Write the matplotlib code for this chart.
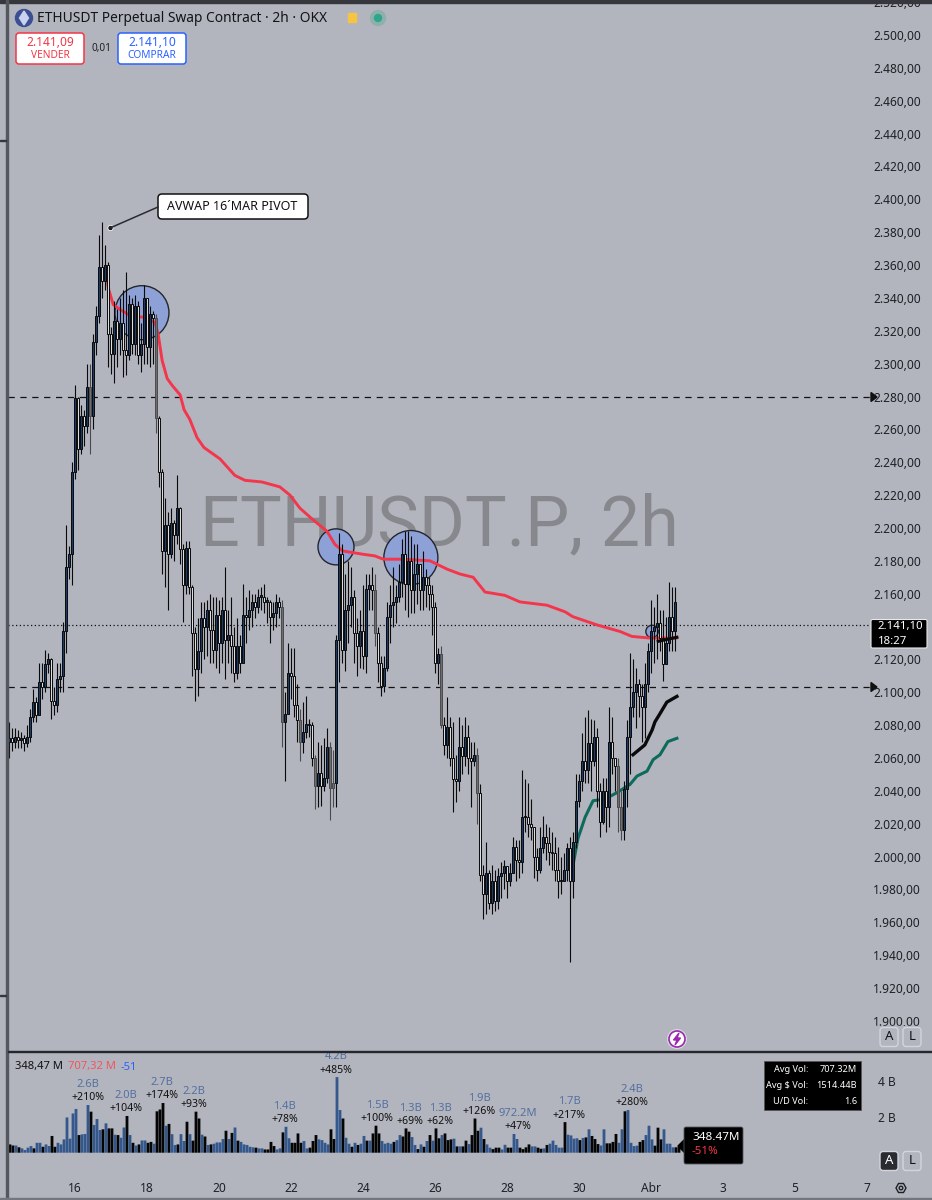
import matplotlib
matplotlib.use("Agg")
import matplotlib.pyplot as plt
from matplotlib.patches import Circle, FancyBboxPatch, Polygon, Rectangle
from matplotlib.ticker import FuncFormatter

# candles (2h bars, open = previous close)
closes = [
    2072, 2070, 2073, 2071, 2072, 2069, 2073, 2085, 2094, 2086,
    2106, 2103, 2117, 2120, 2095, 2092, 2108, 2110, 2137, 2176,
    2184, 2234, 2279, 2248, 2268, 2262, 2286, 2268, 2313, 2329,
    2359, 2350, 2360, 2318, 2306, 2326, 2315, 2325, 2308, 2305,
    2336, 2312, 2335, 2305, 2312, 2340, 2310, 2330, 2328, 2267,
    2234, 2186, 2202, 2184, 2203, 2196, 2212, 2187, 2165, 2188,
    2164, 2136, 2114, 2125, 2145, 2140, 2150, 2138, 2126, 2147,
    2130, 2150, 2132, 2135, 2128, 2112, 2128, 2118, 2147, 2146,
    2150, 2155, 2152, 2158, 2158, 2155, 2155, 2146, 2148, 2155,
    2152, 2082, 2087, 2112, 2110, 2092, 2083, 2070, 2076, 2081,
    2080, 2060, 2043, 2051, 2043, 2048, 2067, 2042, 2045, 2132,
    2184, 2126, 2150, 2153, 2158, 2136, 2128, 2137, 2122, 2163,
    2165, 2162, 2136, 2118, 2104, 2115, 2146, 2153, 2155, 2158,
    2167, 2184, 2166, 2180, 2162, 2172, 2178, 2162, 2170, 2165,
    2160, 2152, 2118, 2123, 2080, 2068, 2079, 2060, 2047, 2046,
    2067, 2061, 2073, 2060, 2058, 2062, 2039, 1989, 1977, 1990,
    1972, 1985, 1973, 1988, 1990, 1994, 1985, 1990, 2006, 1998,
    1997, 2024, 2024, 2020, 2018, 2000, 1992, 2005, 2012, 2008,
    2003, 2002, 1992, 1985, 1985, 1992, 2005, 1985, 2009, 2034,
    2046, 2058, 2053, 2069, 2058, 2073, 2040, 2021, 2040, 2030,
    2070, 2060, 2055, 2030, 2016, 2041, 2073, 2091, 2100, 2105,
    2098, 2091, 2105, 2125, 2137, 2140, 2142, 2133, 2117, 2130,
    2146, 2137, 2155,
]
highs = [
    2082, 2078, 2078, 2077, 2076, 2074, 2080, 2090, 2102, 2097,
    2118, 2118, 2126, 2124, 2121, 2103, 2118, 2118, 2143, 2202,
    2189, 2240, 2287, 2280, 2275, 2272, 2300, 2300, 2318, 2335,
    2378, 2386, 2372, 2362, 2322, 2338, 2333, 2340, 2345, 2356,
    2342, 2340, 2342, 2338, 2325, 2348, 2340, 2335, 2332, 2330,
    2268, 2236, 2218, 2210, 2212, 2205, 2232, 2213, 2190, 2192,
    2192, 2165, 2140, 2145, 2155, 2155, 2156, 2160, 2158, 2158,
    2156, 2158, 2176, 2150, 2158, 2140, 2145, 2135, 2166, 2158,
    2162, 2160, 2160, 2163, 2164, 2166, 2158, 2156, 2155, 2160,
    2158, 2156, 2100, 2130, 2127, 2127, 2105, 2090, 2094, 2098,
    2084, 2082, 2062, 2070, 2068, 2072, 2078, 2070, 2065, 2135,
    2197, 2190, 2172, 2180, 2176, 2162, 2145, 2150, 2165, 2172,
    2172, 2176, 2172, 2140, 2122, 2122, 2155, 2165, 2176, 2165,
    2178, 2193, 2198, 2198, 2195, 2190, 2190, 2178, 2186, 2175,
    2170, 2165, 2155, 2127, 2128, 2085, 2097, 2085, 2082, 2062,
    2085, 2080, 2085, 2080, 2070, 2070, 2066, 2044, 1995, 2009,
    1992, 1995, 1992, 1993, 1997, 1998, 1993, 1996, 2012, 2010,
    2010, 2053, 2047, 2045, 2035, 2018, 2005, 2018, 2025, 2020,
    2018, 2015, 2012, 2006, 2000, 2002, 2008, 2012, 2015, 2050,
    2050, 2075, 2085, 2089, 2084, 2083, 2078, 2045, 2048, 2048,
    2091, 2085, 2060, 2060, 2040, 2046, 2083, 2124, 2120, 2115,
    2108, 2105, 2118, 2130, 2156, 2152, 2160, 2150, 2150, 2146,
    2167, 2164, 2164,
]
lows = [
    2060, 2064, 2066, 2066, 2066, 2064, 2067, 2070, 2082, 2082,
    2090, 2096, 2100, 2112, 2084, 2086, 2088, 2100, 2100, 2124,
    2169, 2165, 2230, 2235, 2245, 2250, 2258, 2245, 2260, 2305,
    2325, 2340, 2345, 2298, 2294, 2288, 2298, 2305, 2292, 2293,
    2302, 2306, 2305, 2300, 2295, 2300, 2300, 2298, 2300, 2258,
    2225, 2172, 2164, 2150, 2182, 2180, 2190, 2178, 2143, 2160,
    2160, 2110, 2095, 2098, 2112, 2120, 2122, 2118, 2118, 2115,
    2112, 2118, 2108, 2118, 2112, 2106, 2108, 2112, 2120, 2130,
    2138, 2140, 2145, 2148, 2150, 2148, 2142, 2130, 2138, 2140,
    2145, 2067, 2046, 2090, 2096, 2085, 2070, 2058, 2063, 2072,
    2073, 2055, 2029, 2030, 2031, 2040, 2045, 2022, 2030, 2030,
    2106, 2118, 2113, 2130, 2140, 2118, 2110, 2115, 2114, 2112,
    2150, 2150, 2128, 2106, 2098, 2100, 2113, 2130, 2140, 2142,
    2155, 2158, 2150, 2146, 2148, 2148, 2154, 2150, 2150, 2152,
    2150, 2135, 2112, 2105, 2078, 2062, 2060, 2055, 2027, 2033,
    2040, 2050, 2055, 2050, 2030, 2055, 2020, 1985, 1962, 1965,
    1968, 1965, 1967, 1968, 1975, 1980, 1975, 1982, 1990, 1985,
    1987, 1990, 2015, 2012, 2010, 1987, 1985, 1990, 2002, 1998,
    1995, 1992, 1985, 1975, 1977, 1985, 1985, 1936, 1975, 2005,
    2030, 2040, 2045, 2045, 2040, 2055, 2030, 2012, 2020, 2015,
    2018, 2050, 2040, 2015, 2010, 2010, 2030, 2050, 2085, 2078,
    2085, 2070, 2072, 2100, 2112, 2118, 2120, 2125, 2107, 2120,
    2125, 2125, 2125,
]
gray_bars = [27, 49, 91, 97, 102, 107, 108, 122, 144, 156, 203, 204]

# anchored lines, day of chart / price
red_days = [16.86, 16.94, 17.06, 17.25, 17.47, 17.94, 18.22, 18.31, 18.42, 18.56,
            18.69, 18.92, 19.03, 19.19, 19.39, 19.58, 20.03, 20.44, 20.72, 21.19,
            21.69, 21.97, 22.25, 22.61, 23.0, 23.22, 23.44, 24.0, 24.33, 24.56,
            25.11, 25.86, 26.33, 26.69, 27.06, 27.39, 27.94, 28.36, 29.11, 29.61,
            29.83, 30.5, 31.14, 31.47, 31.97, 32.72]
red_prices = [2354, 2345, 2336, 2333, 2330, 2328, 2325, 2318, 2302, 2291,
              2287, 2281, 2272, 2266, 2255, 2249, 2242, 2232, 2229, 2228,
              2225, 2220, 2212, 2205, 2198, 2190, 2186, 2184, 2183, 2181,
              2181, 2180, 2175, 2172, 2170, 2161, 2159, 2155, 2153, 2149,
              2146, 2141, 2137, 2134, 2133, 2133]
black_days = [31.5, 31.83, 32.03, 32.11, 32.25, 32.44, 32.72]
black_prices = [2062, 2068, 2077, 2082, 2087, 2094, 2097.5]
black2_days = [32.2, 32.72]
black2_prices = [2131, 2133.5]
green_days = [29.81, 29.97, 30.17, 30.39, 30.72, 31.06, 31.42, 31.61, 31.89, 32.06,
              32.25, 32.47, 32.72]
green_prices = [1992, 2011, 2024, 2034, 2035, 2039, 2044, 2049, 2052, 2059,
                2062, 2070, 2072]

circle_days = [17.86, 23.25, 25.33, 32.03]
circle_prices = [2331, 2188.5, 2182, 2137]
circle_sizes = [1512, 672, 1512, 80]

level_prices = [2280, 2103]
last_price = 2141.10

# volume in billions, b = blue bar, k = black bar
vol_values = [
    .46, .40, .40, .30, .24, .15, .28, .37, .24, .55,
    .55, .33, .46, .37, .93, .33, .55, .46, .74, 1.96,
    .78, 2.18, 2.43, .98, 1.02, 1.04, 2.65, 2.28, 1.54, 1.87,
    1.26, 1.3, 1.63, 1.35, 1.35, 1.0, .98, .83, 1.4, 2.04,
    .98, .55, .4, .46, .68, .68, .55, .6, .5, 2.3,
    2.4, 2.76, 1.5, 1.6, 1.03, .43, .46, 1.03, .65, 1.72,
    1.03, .67, 2.28, 1.9, 1.0, .9, .43, .46, .5, .57,
    .57, .76, 1.22, .76, 1.1, 1.4, .67, .6, .46, .43,
    .33, .3, .28, .24, .24, .18, .18, .6, .37, .18,
    .24, 1.13, 1.44, .8, .55, .55, 1.07, .55, .65, .24,
    .28, .65, .98, .74, .7, .55, .46, 1.3, .76, 4.2,
    2.37,
    1.9, .83, .5, .33, .55, .43, .5, .93, .67, .67,
    1.07, 1.5, 1.07, .65, .5, .55, .5, .6, .7, .98,
    .9, 1.35, 1.17, .87, .43, .2, .46, .33, .65, .98,
    .67, 1.35, .8, .98, 1.07, .7, .74, .78, .35, .35,
    .35, .67, .48, .98, 1.9, 1.22, 1.39, .76, .46, .28,
    .2, .28, .28, .18, .44, .28, .28, 1.04, .76, .28,
    .2, .3, .46, .35, .35, .28, .22, .24, .43, .5,
    .67, .43, .28, .28, 1.7, 1.0, .96, .78, .8, .7,
    .82, .85, 1.3, .93, .76, .48, .4, 1.3, .52, .52,
    .6, 1.04, .55, 1.3, 2.3, 2.37, .55, .37, .39, .6,
    .7, .98, 1.5, .74, .39, 1.39, .74, 1.3, .5, .5,
    .3, .3, .35,
]
vol_kinds = ("kkbkbbbbkb" "bkbbkkbbbb" "bbbkbbbkbb" "bkbkkbkbbk" "bkbkbbkkbk"
             "kkbkbbkbbk" "bkkkbkbkbb" "bbkbkbkbbb" "bbkbbkkkkb" "bkbbkkkkbb"
             "kkkbbbbkkb" "b"
             "kbbkbkbbkb" "kkkbbbbkbb" "kkkbbkbkbk" "bkkbkkkbkb" "kkbkkkbkbb"
             "kkkbbkkbbk" "kkkbbkkbkb" "bbbbkbbbbk" "bkbkkkbbkk" "kkbbkbbbbk"
             "kbbbkkkbbb" "bkk")

peak_days = [16.36, 17.42, 18.42, 19.31, 21.83, 23.25, 24.39, 25.31, 26.14, 27.22,
             28.31, 29.72, 31.47]
peak_values = [2.65, 2.04, 2.76, 2.28, 1.44, 4.2, 1.5, 1.35, 1.35, 1.9,
               1.04, 1.7, 2.37]
peak_labels = ["2.6B", "2.0B", "2.7B", "2.2B", "1.4B", "4.2B", "1.5B", "1.3B", "1.3B", "1.9B",
               "972.2M", "1.7B", "2.4B"]
peak_pcts = ["+210%", "+104%", "+174%", "+93%", "+78%", "+485%", "+100%", "+69%", "+62%", "+126%",
             "+47%", "+217%", "+280%"]

price_ticks = [p for p in range(1900, 2521, 20) if p != 2140]  # 2.140 sits under the price tag
date_ticks = [16, 18, 20, 22, 24, 26, 28, 30, 32, 34, 36, 38]
date_labels = ["16", "18", "20", "22", "24", "26", "28", "30", "Abr", "3", "5", "7"]

W, H = 932, 1200
BG = "#b2b5be"
UP = "#1d3b68"
DOWN = "#dcdde0"
GRAY = "#6e6e70"
VOL_BLUE = "#34588c"
LABEL_BLUE = "#54709f"
FONT = "Noto Sans"
plt.rcParams["font.family"] = [FONT, "DejaVu Sans"]

fig = plt.figure(figsize=(W / 100, H / 100), dpi=100, facecolor=BG)


def px_axes(left, top, right, bottom):
    return fig.add_axes([left / W, 1 - bottom / H, (right - left) / W, (bottom - top) / H])


# main pane
ax = px_axes(8, 0, 872, 1051)
ax.patch.set_alpha(0)
ax.set_xlim(14.139, 38.139)
ax.set_ylim(1881.7, 2521.3)
for s in ax.spines.values():
    s.set_visible(False)
ax.xaxis.set_visible(False)
ax.yaxis.tick_right()
ax.set_yticks(price_ticks)
ax.yaxis.set_major_formatter(FuncFormatter(lambda v, _: f"{v:,.2f}".replace(",", "#").replace(".", ",").replace("#", ".")))
ax.tick_params(axis="y", length=0, pad=1, labelsize=8.6, labelcolor="#1f2024")

# watermark sits under the candles
fig.text(439 / W, 1 - 526 / H, "ETHUSDT.P, 2h", ha="center", va="center",
         fontsize=50.5, color="#87888d", family="Roboto", zorder=-1)

# levels
for lv in level_prices:
    ax.axhline(lv, color="#111111", lw=0.9, ls=(0, (5, 4.5)), zorder=1.5)
ax.axhline(last_price, color="#111111", lw=0.9, ls=(0, (1, 2)), zorder=1.5)

ax.scatter(circle_days, circle_prices, s=circle_sizes, facecolor="#8ea1d6", edgecolor="#23252c",
           linewidth=1, zorder=1.8)

ax.plot(red_days, red_prices, color="#f4364c", lw=2.1, zorder=2.2, solid_capstyle="round")
ax.plot(green_days, green_prices, color="#0e6b5b", lw=2.2, zorder=2.2)
ax.plot(black_days, black_prices, color="#0a0a0a", lw=2.4, zorder=2.2)

# candles
bar_days = [16 + (9 - 75) / 36 + i / 12 for i in range(len(closes))]
opens = [closes[0] - 2] + closes[:-1]
for i, day in enumerate(bar_days):
    o, c = opens[i], closes[i]
    if i in gray_bars:
        face, edge = GRAY, "#4a4a4c"
    elif c >= o:
        face, edge = UP, "#0a0a0a"
    else:
        face, edge = DOWN, "#0a0a0a"
    ax.vlines(day, lows[i], highs[i], color=edge, lw=0.8, zorder=3)
    ax.bar(day, max(abs(c - o), 1), bottom=min(o, c), width=0.055, facecolor=face, edgecolor=edge,
           linewidth=0.7, zorder=3.1)
ax.plot(black2_days, black2_prices, color="#0a0a0a", lw=2.2, zorder=3.5)

# volume pane
vax = px_axes(8, 1052, 872, 1176)
vax.patch.set_alpha(0)
vax.set_xlim(14.139, 38.139)
vax.set_ylim((1152.7 - 1176) / 18, (1152.7 - 1052) / 18)
for s in vax.spines.values():
    s.set_visible(False)
vol_days = [16 + (10 - 75) / 36 + i / 12 for i in range(len(vol_values))]
vol_bars = vax.bar(vol_days, vol_values, width=0.078,
                   color=[VOL_BLUE if k == "b" else "#050505" for k in vol_kinds], zorder=3)
for b in vol_bars:
    b.set_snap(False)
for day, val, lab, pct in zip(peak_days, peak_values, peak_labels, peak_pcts):
    vax.annotate(pct, (day, val), xytext=(0, 5.1), textcoords="offset points", ha="center", va="center",
                 fontsize=7.6, color="#101010", annotation_clip=False)
    vax.annotate(lab, (day, val), xytext=(0, 14.6), textcoords="offset points", ha="center", va="center",
                 fontsize=8, color=LABEL_BLUE, annotation_clip=False)
vax.set_xticks(date_ticks)
vax.set_xticklabels(date_labels)
vax.get_xticklabels()[8].set_fontweight("bold")
vax.yaxis.tick_right()
vax.set_yticks([2, 4])
vax.set_yticklabels(["2 B", "4 B"])
vax.tick_params(axis="x", length=0, pad=4, labelsize=8.6, labelcolor="#1f2024")
vax.tick_params(axis="y", length=0, pad=4.5, labelsize=8.6, labelcolor="#1f2024")

# chrome, placed in picture pixels
ov = fig.add_axes([0, 0, 1, 1], zorder=20)
ov.set_xlim(0, W)
ov.set_ylim(H, 0)
ov.axis("off")


def box(x0, y0, x1, y1, face, edge, lw=1.0, rad=3):
    ov.add_patch(FancyBboxPatch((x0 + rad, y0 + rad), x1 - x0 - 2 * rad, y1 - y0 - 2 * rad,
                                boxstyle=f"round,pad={rad},rounding_size={rad}",
                                facecolor=face, edgecolor=edge, linewidth=lw))


def label(x, y, s, size=8.5, color="#111111", ha="left", weight="normal", **kw):
    ov.text(x, y, s, fontsize=size, color=color, ha=ha, va="center", fontweight=weight, **kw)


# frame
ov.add_patch(Rectangle((0, 0), W, 3, color="#36373c"))
ov.add_patch(Rectangle((6, 0), 2, H, color="#55575e"))
ov.add_patch(Rectangle((0, 1197.5), W, 2.5, color="#74767d"))
ov.add_patch(Rectangle((0, 140), 6, 1, color="#36373c"))
ov.add_patch(Rectangle((0, 995), 6, 1, color="#36373c"))
ov.add_patch(Rectangle((873, 1025.5), 59, 25, color=BG))
ov.add_patch(Rectangle((8, 1050.5), W - 8, 1.6, color="#26272c"))

# header
ov.add_patch(Circle((24, 18), 8.5, color="#3d4f93"))
ov.add_patch(Polygon([(24, 11), (28.5, 18), (24, 25), (19.5, 18)], color="#c9d2ee"))
label(37, 18, "ETHUSDT Perpetual Swap Contract · 2h · OKX", size=9.9, color="#131417")
ov.add_patch(Rectangle((348, 13), 8, 9, color="#f5c542"))
ov.add_patch(Circle((378, 18), 7.5, color="#8fb0aa"))
ov.add_patch(Circle((378, 18), 3.5, color="#2fa58d"))
box(16, 33, 84, 64, "white", "#f23645", lw=1.1)
label(50, 42, "2.141,09", size=8.6, color="#f23645", ha="center", weight="bold")
label(50, 55.5, "VENDER", size=7.3, color="#f23645", ha="center")
label(101, 48, "0,01", size=7.2, ha="center", color="#202124")
box(118, 33, 186, 64, "white", "#2962ff", lw=1.1)
label(152, 42, "2.141,10", size=8.6, color="#2962ff", ha="center", weight="bold")
label(152, 55.5, "COMPRAR", size=7.3, color="#2962ff", ha="center")

# callout
ov.plot([110, 158], [228, 207], color="#2a2b30", lw=1.1)
ov.add_patch(Circle((110.5, 228), 3, facecolor="white", edgecolor="none"))
ov.add_patch(Circle((110.5, 228), 1.5, color="#111111"))
box(158, 194, 308, 219, "white", "#111111", lw=1.1, rad=4)
label(167, 207, "AVWAP 16´MAR PIVOT", size=9)

# level arrows and price tag
for y in (397, 687):
    ov.add_patch(Polygon([(871, y - 4.5), (877, y), (871, y + 4.5)], color="#111111"))
box(871, 619.5, 927, 648, "black", "#e8e8ea", lw=0.8, rad=1.5)
label(878, 627, "2.141,10", size=8.2, color="white", weight="bold")
label(878, 641, "18:27", size=8.2, color="white")

# volume legend
label(15, 1067, "348,47 M", size=8.1)
label(68, 1067, "707,32 M", size=8.1, color="#f2545f")
label(121, 1067, "-51", size=8.1, color="#2962ff")

# stats box
ov.add_patch(Rectangle((764, 1061), 97, 49, facecolor="black", edgecolor="#555555", lw=0.6))
for y, a, b in [(1069.5, "Avg Vol:", "707.32M"), (1085.5, "Avg $ Vol:", "1514.44B"), (1101.5, "U/D Vol:", "1.6")]:
    label(808, y, a, size=6.6, color="white", ha="right", weight="bold")
    label(857, y, b, size=6.6, color="white", ha="right", weight="bold")

# last volume tag
ov.add_patch(Polygon([(678, 1146), (685, 1139), (685, 1153)], color="black"))
box(684, 1127, 743, 1164, "black", "#55575e", lw=0.6, rad=2)
label(692, 1138, "348.47M", size=8.4, color="white")
label(692, 1152, "-51%", size=8.4, color="#f23645")

# small buttons
for x, y, s, face, col in [(889, 1037, "A", BG, "#131417"), (912, 1037, "L", BG, "#131417"),
                           (889, 1161, "A", "#2a2b30", "white"), (912, 1161, "L", BG, "#131417")]:
    box(x - 9, y - 9.5, x + 9, y + 9.5, face, "#d3d5da", lw=1.0, rad=3)
    label(x, y, s, size=9.5, color=col, ha="center")

# flash badge and settings icon
ov.add_patch(Circle((677, 1039), 10, facecolor="#d6d8dd", edgecolor="none"))
ov.add_patch(Circle((677, 1039), 8, facecolor="white", edgecolor="#9c27b0", lw=1.2))
ov.add_patch(Polygon([(679, 1033), (673.5, 1040), (677, 1040), (675, 1045), (680.5, 1038), (677, 1038)],
                     color="#9c27b0"))
ov.add_patch(Polygon([(896, 1188), (898.5, 1183.5), (903.5, 1183.5), (906, 1188), (903.5, 1192.5), (898.5, 1192.5)],
                     facecolor="none", edgecolor="#1f2024", lw=1))
ov.add_patch(Circle((901, 1188), 1.8, facecolor="none", edgecolor="#1f2024", lw=1))

fig.savefig("out.png", dpi=100, facecolor=BG)
